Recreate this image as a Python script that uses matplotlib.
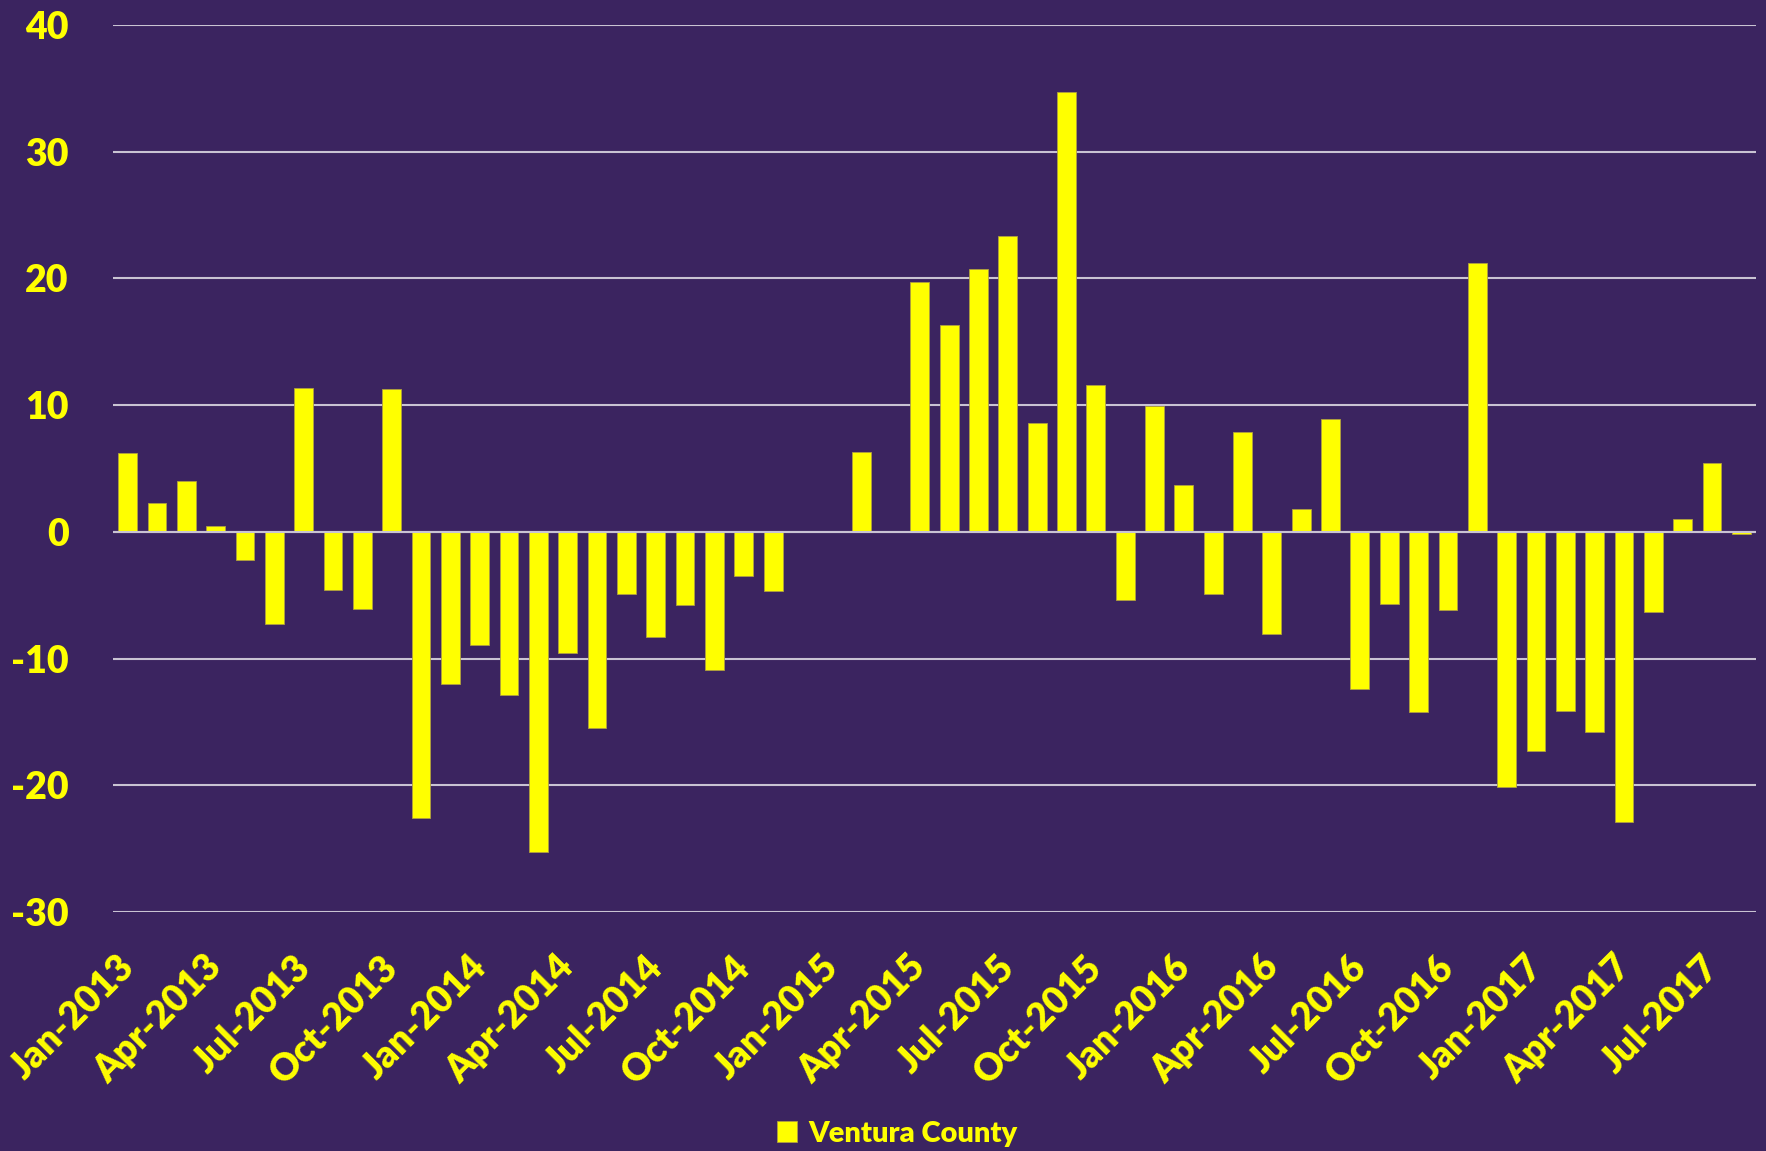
import numpy as np
import pandas as pd
import matplotlib
matplotlib.use("Agg")
import matplotlib.pyplot as plt
import matplotlib.transforms as mtransforms

# monthly values, Jan-2013 .. Aug-2017
months = pd.date_range("2013-01-01", "2017-08-01", freq="MS")
values = [6.2, 2.3, 4.0, 0.45, -2.2, -7.3, 11.35, -4.6, -6.1, 11.3,
          -22.6, -12.0, -8.9, -12.9, -25.3, -9.6, -15.5, -4.9, -8.3, -5.8,
          -10.9, -3.5, -4.7, 0.0, 0.0, 6.3, 0.0, 19.7, 16.3, 20.7,
          23.3, 8.6, 34.7, 11.6, -5.4, 9.9, 3.7, -4.9, 7.9, -8.1,
          1.8, 8.9, -12.4, -5.7, -14.2, -6.2, 21.2, -20.1, -17.3, -14.1,
          -15.8, -22.9, -6.3, 1.0, 5.4, -0.2]
series_name = "Ventura County"
yticks = [-30, -20, -10, 0, 10, 20, 30, 40]

bg = "#3b2460"
yellow = "#ffff00"
gridc = "#c9c3d3"

plt.rcParams['font.family'] = ['Lato', 'DejaVu Sans']
plt.rcParams['font.weight'] = 'heavy'
plt.rcParams['axes.unicode_minus'] = False

fig = plt.figure(figsize=(17.66, 11.51), dpi=100)
fig.patch.set_facecolor(bg)
ax = fig.add_axes([0.064, 0.2076, 0.9303, 0.7709])
ax.set_facecolor(bg)

x = np.arange(len(values))
ax.bar(x, values, width=0.64, color=yellow, edgecolor="#b0a040", linewidth=0.6,
       label=series_name, zorder=3)

ax.set_xlim(-0.5, len(values) - 0.5)
ax.set_ylim(-30, 40)
ax.set_yticks(yticks)
ax.yaxis.grid(True, color=gridc, linewidth=1.5, zorder=0)
ax.axhline(0, color=gridc, linewidth=1.5, zorder=4)

tick_idx = x[::3]
ax.set_xticks(tick_idx)
ax.set_xticklabels([months[i].strftime("%b-%Y") for i in tick_idx],
                   rotation=45, ha="right", va="top", rotation_mode="default")

for sp in ax.spines.values():
    sp.set_visible(False)
ax.tick_params(axis="both", length=0, colors=yellow, labelsize=27)
ax.tick_params(axis="y", pad=32)
ax.tick_params(axis="x", pad=27)
shift = mtransforms.ScaledTranslation(0.13, 0, fig.dpi_scale_trans)
for lab in ax.get_xticklabels():
    lab.set_fontweight("heavy")
    lab.set_transform(lab.get_transform() + shift)
for lab in ax.get_yticklabels():
    lab.set_fontweight("heavy")

leg = ax.legend(loc="center", bbox_to_anchor=(0.508, 0.015), bbox_transform=fig.transFigure,
                frameon=False, handlelength=0.7, handleheight=0.7, handletextpad=0.4,
                prop={"size": 21, "weight": "heavy"})
for t in leg.get_texts():
    t.set_color(yellow)

fig.savefig("out.png", dpi=100, facecolor=bg)
